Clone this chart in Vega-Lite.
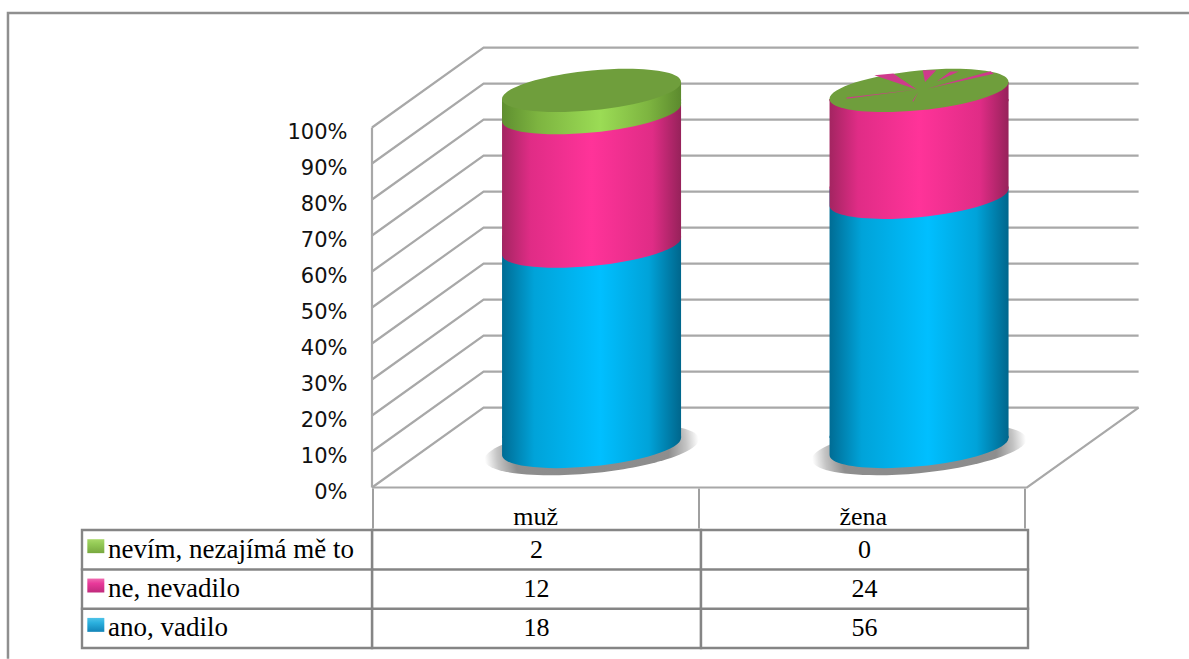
{
"$schema":"https://vega.github.io/schema/vega-lite/v6.json",
"width":1189,"height":659,"padding":0,"autosize":{"type":"none"},"background":"#ffffff",
"config":{"view":{"stroke":null}},
"datasets":{
"responses":[
{"pohlavi":"muž","idx":0,"odpoved":"ano, vadilo","poradi":0,"r":2,"pocet":18},
{"pohlavi":"muž","idx":0,"odpoved":"ne, nevadilo","poradi":1,"r":1,"pocet":12},
{"pohlavi":"muž","idx":0,"odpoved":"nevím, nezajímá mě to","poradi":2,"r":0,"pocet":2},
{"pohlavi":"žena","idx":1,"odpoved":"ano, vadilo","poradi":0,"r":2,"pocet":56},
{"pohlavi":"žena","idx":1,"odpoved":"ne, nevadilo","poradi":1,"r":1,"pocet":24},
{"pohlavi":"žena","idx":1,"odpoved":"nevím, nezajímá mě to","poradi":2,"r":0,"pocet":0}
],
"walls":[
{"id":"p0","k":0,"u":0,"d":0,"pct":0},{"id":"p0","k":1,"u":0,"d":1,"pct":0},{"id":"p0","k":2,"u":2,"d":1,"pct":0},
{"id":"p10","k":0,"u":0,"d":0,"pct":10},{"id":"p10","k":1,"u":0,"d":1,"pct":10},{"id":"p10","k":2,"u":2,"d":1,"pct":10},
{"id":"p20","k":0,"u":0,"d":0,"pct":20},{"id":"p20","k":1,"u":0,"d":1,"pct":20},{"id":"p20","k":2,"u":2,"d":1,"pct":20},
{"id":"p30","k":0,"u":0,"d":0,"pct":30},{"id":"p30","k":1,"u":0,"d":1,"pct":30},{"id":"p30","k":2,"u":2,"d":1,"pct":30},
{"id":"p40","k":0,"u":0,"d":0,"pct":40},{"id":"p40","k":1,"u":0,"d":1,"pct":40},{"id":"p40","k":2,"u":2,"d":1,"pct":40},
{"id":"p50","k":0,"u":0,"d":0,"pct":50},{"id":"p50","k":1,"u":0,"d":1,"pct":50},{"id":"p50","k":2,"u":2,"d":1,"pct":50},
{"id":"p60","k":0,"u":0,"d":0,"pct":60},{"id":"p60","k":1,"u":0,"d":1,"pct":60},{"id":"p60","k":2,"u":2,"d":1,"pct":60},
{"id":"p70","k":0,"u":0,"d":0,"pct":70},{"id":"p70","k":1,"u":0,"d":1,"pct":70},{"id":"p70","k":2,"u":2,"d":1,"pct":70},
{"id":"p80","k":0,"u":0,"d":0,"pct":80},{"id":"p80","k":1,"u":0,"d":1,"pct":80},{"id":"p80","k":2,"u":2,"d":1,"pct":80},
{"id":"p90","k":0,"u":0,"d":0,"pct":90},{"id":"p90","k":1,"u":0,"d":1,"pct":90},{"id":"p90","k":2,"u":2,"d":1,"pct":90},
{"id":"p100","k":0,"u":0,"d":0,"pct":100},{"id":"p100","k":1,"u":0,"d":1,"pct":100},{"id":"p100","k":2,"u":2,"d":1,"pct":100},
{"id":"v","k":0,"u":0,"d":0,"pct":0},{"id":"v","k":1,"u":0,"d":0,"pct":100},
{"id":"f","k":0,"u":0,"d":0,"pct":0},{"id":"f","k":1,"u":2,"d":0,"pct":0},{"id":"f","k":2,"u":2,"d":1,"pct":0}
],
"frame":[{"k":0,"u":-1.1115,"pct":-47.6},{"k":1,"u":-1.1115,"pct":131.8},{"k":2,"u":2.4946,"pct":131.8}],
"headers":[{"hranice":0},{"hranice":1},{"hranice":2}]
},
"encoding":{
"x":{"field":"xp","type":"quantitative","scale":{"domain":[-1.13588,2.49466],"nice":false,"zero":false},"axis":null},
"y":{"field":"yp","type":"quantitative","scale":{"domain":[-47.639,135.417],"nice":false,"zero":false},
"axis":{"values":[0,10,20,30,40,50,60,70,80,90,100],"labelExpr":"datum.value + '%'","title":null,"orient":"left","offset":-347,"domain":false,"ticks":false,"grid":false,"labelPadding":0,"labelFont":"DejaVu Sans","labelFontSize":21,"labelColor":"#111111","labelOffset":5,"labelOverlap":false,"labelFlush":false}}
},
"layer":[
{"data":{"name":"frame"},"transform":[{"calculate":"datum.u","as":"xp"},{"calculate":"datum.pct","as":"yp"}],
"mark":{"type":"line","stroke":"#8f8f8f","strokeWidth":2.5},"encoding":{"order":{"field":"k","type":"quantitative"}}},
{"data":{"name":"walls"},"transform":[{"calculate":"datum.u+datum.d*0.3408","as":"xp"},{"calculate":"datum.pct+datum.d*22.2","as":"yp"}],
"mark":{"type":"line","stroke":"#a8a8a8","strokeWidth":2.2},"encoding":{"detail":{"field":"id","type":"nominal"},"order":{"field":"k","type":"quantitative"}}},
{"data":{"name":"headers"},"transform":[{"calculate":"datum.hranice*0.9954+0.003","as":"xp"},{"calculate":"-0.3","as":"yp"},{"calculate":"-11.4","as":"yp2"}],
"mark":{"type":"rule","stroke":"#a0a0a0","strokeWidth":2},"encoding":{"y2":{"field":"yp2"}}},
{"data":{"name":"responses"},
"transform":[
{"stack":"pocet","groupby":["pohlavi"],"offset":"normalize","sort":[{"field":"poradi","order":"ascending"}],"as":["p0","p1"]},
{"calculate":"11.39+98.9*datum.p0","as":"c0"},
{"calculate":"11.39+98.9*datum.p1","as":"c1"},
{"calculate":"datum.idx+0.6704","as":"xc"},
{"calculate":"datum.xc","as":"xp"},
{"calculate":"datum.c0","as":"yp"}
],
"layer":[
{"transform":[{"filter":"datum.poradi==0"},{"calculate":"datum.c0-0.8","as":"yp"}],
"mark":{"type":"point","filled":true,"opacity":1,"strokeWidth":0,"size":46000,
"shape":"M1 -.0955C1 .0271 .5523 .1693 0 .222C-.5523 .2747 -1 .2181 -1 .0955C-1 -.0271 -.5523 -.1693 0 -.222C.5523 -.2747 1 -.2181 1 -.0955Z",
"fill":{"gradient":"radial","x1":0.5,"y1":0.5,"x2":0.5,"y2":0.5,"r1":0,"r2":0.5,"stops":[{"offset":0,"color":"#8a8a8a"},{"offset":0.72,"color":"#8e8e8e"},{"offset":0.88,"color":"#c4c4c4"},{"offset":1,"color":"#ffffff"}]}}},
{"transform":[{"filter":"datum.poradi==0"}],
"layer":[
{"transform":[{"calculate":"datum.xc-0.2733","as":"xp"},{"calculate":"datum.xc+0.2733","as":"xp2"},{"calculate":"datum.c0+2.37","as":"yp"},{"calculate":"datum.p1>0.999?datum.c1-2.37:datum.c1+2.37","as":"yp2"}],
"mark":{"type":"rect","fill":{"gradient":"linear","x1":0,"y1":0,"x2":1,"y2":0,"stops":[{"offset":0,"color":"#006c94"},{"offset":0.18,"color":"#00a3d9"},{"offset":0.55,"color":"#00bfff"},{"offset":0.82,"color":"#00a3d9"},{"offset":1,"color":"#00668c"}]}},
"encoding":{"x2":{"field":"xp2"},"y2":{"field":"yp2"}}},
{"mark":{"type":"point","filled":true,"opacity":1,"strokeWidth":0,"size":32041,
"shape":"M1 -.0955C1 .0271 .5523 .1693 0 .222C-.5523 .2747 -1 .2181 -1 .0955L-1 -.12L1 -.12Z",
"fill":{"gradient":"linear","x1":0,"y1":0,"x2":1,"y2":0,"stops":[{"offset":0,"color":"#006c94"},{"offset":0.18,"color":"#00a3d9"},{"offset":0.55,"color":"#00bfff"},{"offset":0.82,"color":"#00a3d9"},{"offset":1,"color":"#00668c"}]}}}
]},
{"transform":[{"filter":"datum.poradi==1"}],
"layer":[
{"transform":[{"calculate":"datum.xc-0.2733","as":"xp"},{"calculate":"datum.xc+0.2733","as":"xp2"},{"calculate":"datum.c0+2.37","as":"yp"},{"calculate":"datum.p1>0.999?datum.c1-2.37:datum.c1+2.37","as":"yp2"}],
"mark":{"type":"rect","fill":{"gradient":"linear","x1":0,"y1":0,"x2":1,"y2":0,"stops":[{"offset":0,"color":"#a32561"},{"offset":0.16,"color":"#e02c86"},{"offset":0.5,"color":"#ff3399"},{"offset":0.84,"color":"#e02c86"},{"offset":1,"color":"#96225a"}]}},
"encoding":{"x2":{"field":"xp2"},"y2":{"field":"yp2"}}},
{"mark":{"type":"point","filled":true,"opacity":1,"strokeWidth":0,"size":32041,
"shape":"M1 -.0955C1 .0271 .5523 .1693 0 .222C-.5523 .2747 -1 .2181 -1 .0955L-1 -.12L1 -.12Z",
"fill":{"gradient":"linear","x1":0,"y1":0,"x2":1,"y2":0,"stops":[{"offset":0,"color":"#a32561"},{"offset":0.16,"color":"#e02c86"},{"offset":0.5,"color":"#ff3399"},{"offset":0.84,"color":"#e02c86"},{"offset":1,"color":"#96225a"}]}}},
{"transform":[{"filter":"datum.p1>0.999"},{"calculate":"datum.c1","as":"yp"}],
"mark":{"type":"point","filled":true,"opacity":1,"strokeWidth":0,"size":32041,
"shape":"M1 -.0955L-1 .0955L-1 .12L1 .12Z",
"fill":{"gradient":"linear","x1":0,"y1":0,"x2":1,"y2":0,"stops":[{"offset":0,"color":"#a32561"},{"offset":0.16,"color":"#e02c86"},{"offset":0.5,"color":"#ff3399"},{"offset":0.84,"color":"#e02c86"},{"offset":1,"color":"#96225a"}]}}}
]},
{"transform":[{"filter":"datum.poradi==2 && datum.pocet>0"}],
"layer":[
{"transform":[{"calculate":"datum.xc-0.2733","as":"xp"},{"calculate":"datum.xc+0.2733","as":"xp2"},{"calculate":"datum.c0+2.37","as":"yp"},{"calculate":"datum.c1-2.37","as":"yp2"}],
"mark":{"type":"rect","fill":{"gradient":"linear","x1":0,"y1":0,"x2":1,"y2":0,"stops":[{"offset":0,"color":"#5f8f30"},{"offset":0.2,"color":"#7db440"},{"offset":0.55,"color":"#9bdc55"},{"offset":0.82,"color":"#7db440"},{"offset":1,"color":"#5c8a2e"}]}},
"encoding":{"x2":{"field":"xp2"},"y2":{"field":"yp2"}}},
{"mark":{"type":"point","filled":true,"opacity":1,"strokeWidth":0,"size":32041,
"shape":"M1 -.0955C1 .0271 .5523 .1693 0 .222C-.5523 .2747 -1 .2181 -1 .0955L-1 -.12L1 -.12Z",
"fill":{"gradient":"linear","x1":0,"y1":0,"x2":1,"y2":0,"stops":[{"offset":0,"color":"#5f8f30"},{"offset":0.2,"color":"#7db440"},{"offset":0.55,"color":"#9bdc55"},{"offset":0.82,"color":"#7db440"},{"offset":1,"color":"#5c8a2e"}]}}},
{"transform":[{"calculate":"datum.c1","as":"yp"}],
"mark":{"type":"point","filled":true,"opacity":1,"strokeWidth":0,"size":32041,
"shape":"M1 -.0955L-1 .0955L-1 .12L1 .12Z",
"fill":{"gradient":"linear","x1":0,"y1":0,"x2":1,"y2":0,"stops":[{"offset":0,"color":"#5f8f30"},{"offset":0.2,"color":"#7db440"},{"offset":0.55,"color":"#9bdc55"},{"offset":0.82,"color":"#7db440"},{"offset":1,"color":"#5c8a2e"}]}}}
]},
{"transform":[{"filter":"datum.poradi==2"},{"calculate":"datum.c1","as":"yp"}],
"mark":{"type":"point","filled":true,"opacity":1,"strokeWidth":0,"size":32041,"fill":"#6f9e3c",
"shape":"M1 -.0955C1 .0271 .5523 .1693 0 .222C-.5523 .2747 -1 .2181 -1 .0955C-1 -.0271 -.5523 -.1693 0 -.222C.5523 -.2747 1 -.2181 1 -.0955Z"}},
{"transform":[{"filter":"datum.poradi==2 && datum.pocet==0"},{"calculate":"datum.c1","as":"yp"}],
"mark":{"type":"point","filled":true,"opacity":1,"strokeWidth":0,"size":32041,"fill":"#cf3a8c",
"shape":"M-.026 -.011L-.5 -.169L-.288 -.19ZM.067 -.094L.041 -.225L.191 -.225ZM.199 -.101L.442 -.213L.35 -.213ZM.086 -.019L.835 -.187L.80 -.215ZM-.026 -.011L-.81 .094L-.81 .08ZM-.01 .02L-.064 .124L-.075 .12Z"}}
]},
{"data":{"name":"headers"},"transform":[{"filter":"datum.hranice<2"},{"calculate":"datum.hranice==0?'muž':'žena'","as":"popisek"},{"calculate":"datum.hranice+0.5","as":"xp"},{"calculate":"-8.2","as":"yp"}],
"mark":{"type":"text","font":"Liberation Serif","fontSize":26,"fill":"#000000","align":"center","baseline":"middle"},
"encoding":{"text":{"field":"popisek"}}},
{"data":{"name":"responses"},
"transform":[{"calculate":"-11.8-10.93*datum.r","as":"radek"}],
"layer":[
{"transform":[{"calculate":"datum.idx==0?0:1.0046","as":"xp"},{"calculate":"datum.idx==0?1.0046:2.0031","as":"xp2"},{"calculate":"datum.radek","as":"yp"},{"calculate":"datum.radek-10.93","as":"yp2"}],
"mark":{"type":"rect","fill":"#ffffff","stroke":"#858585","strokeWidth":2.4},
"encoding":{"x2":{"field":"xp2"},"y2":{"field":"yp2"}}},
{"transform":[{"filter":"datum.idx==0"},{"calculate":"-0.8855","as":"xp"},{"calculate":"0","as":"xp2"},{"calculate":"datum.radek","as":"yp"},{"calculate":"datum.radek-10.93","as":"yp2"}],
"mark":{"type":"rect","fill":"#ffffff","stroke":"#858585","strokeWidth":2.4},
"encoding":{"x2":{"field":"xp2"},"y2":{"field":"yp2"}}},
{"transform":[{"calculate":"datum.idx==0?0.5023:1.5038","as":"xp"},{"calculate":"datum.radek-5.5","as":"yp"}],
"mark":{"type":"text","font":"Liberation Serif","fontSize":26,"fill":"#000000","align":"center","baseline":"middle"},
"encoding":{"text":{"field":"pocet","type":"quantitative"}}},
{"transform":[{"filter":"datum.idx==0"},{"calculate":"-0.806","as":"xp"},{"calculate":"datum.radek-5.5","as":"yp"}],
"mark":{"type":"text","font":"Liberation Serif","fontSize":27,"fill":"#000000","align":"left","baseline":"middle"},
"encoding":{"text":{"field":"odpoved"}}},
{"transform":[{"filter":"datum.poradi==0 && datum.idx==0"},{"calculate":"-0.8433","as":"xp"},{"calculate":"datum.radek-4.5","as":"yp"}],
"mark":{"type":"point","filled":true,"opacity":1,"strokeWidth":0,"size":289,"shape":"M-1 -.82H1V.82H-1Z","fill":{"gradient":"linear","x1":0,"y1":0,"x2":0,"y2":1,"stops":[{"offset":0,"color":"#4fc3e8"},{"offset":0.35,"color":"#2bb0de"},{"offset":1,"color":"#1284b8"}]}}},
{"transform":[{"filter":"datum.poradi==1 && datum.idx==0"},{"calculate":"-0.8433","as":"xp"},{"calculate":"datum.radek-4.5","as":"yp"}],
"mark":{"type":"point","filled":true,"opacity":1,"strokeWidth":0,"size":289,"shape":"M-1 -.82H1V.82H-1Z","fill":{"gradient":"linear","x1":0,"y1":0,"x2":0,"y2":1,"stops":[{"offset":0,"color":"#f06ab0"},{"offset":0.35,"color":"#e8399a"},{"offset":1,"color":"#c02a7c"}]}}},
{"transform":[{"filter":"datum.poradi==2 && datum.idx==0"},{"calculate":"-0.8433","as":"xp"},{"calculate":"datum.radek-4.5","as":"yp"}],
"mark":{"type":"point","filled":true,"opacity":1,"strokeWidth":0,"size":289,"shape":"M-1 -.82H1V.82H-1Z","fill":{"gradient":"linear","x1":0,"y1":0,"x2":0,"y2":1,"stops":[{"offset":0,"color":"#a8d868"},{"offset":0.35,"color":"#93c955"},{"offset":1,"color":"#78a83f"}]}}}
]}
]
}
